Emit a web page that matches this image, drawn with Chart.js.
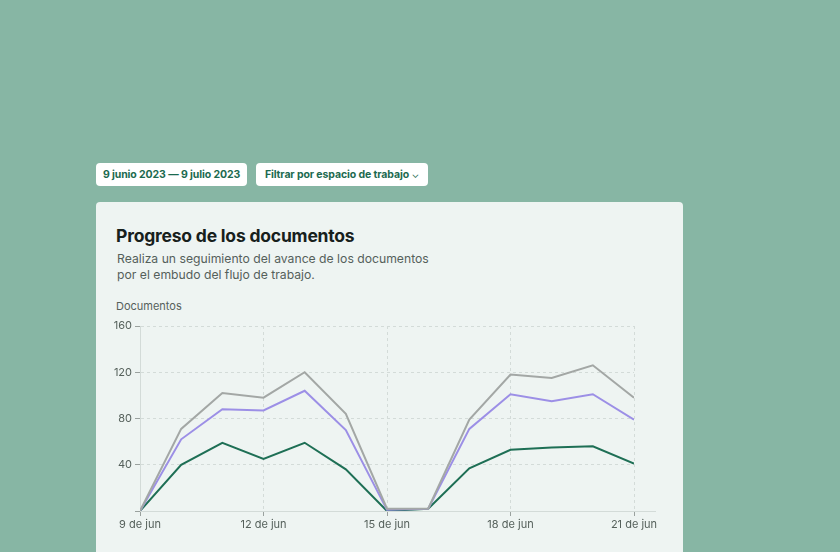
<!DOCTYPE html>
<html>
<head>
<meta charset="utf-8">
<script src="https://cdn.jsdelivr.net/npm/chart.js@4.4.0/dist/chart.umd.min.js"></script>
<style>
  html, body { margin:0; padding:0; }
  body { width:840px; height:552px; background:#87b6a4; position:relative; overflow:hidden; font-family:Inter, "Open Sans", sans-serif; }
  .btn { position:absolute; top:163px; height:23px; background:#fff; border-radius:4px; color:#1c6a4f; font-weight:700; font-size:10.5px; line-height:23px; text-align:center; letter-spacing:-0.1px; }
  .card { position:absolute; left:96px; top:202px; width:587px; height:380px; background:#eef4f2; border-radius:4px; }
  .title { position:absolute; left:116px; top:225px; font-size:17.5px; font-weight:700; color:#17201c; letter-spacing:-0.2px; }
  .sub { position:absolute; left:117px; top:251px; font-size:12.2px; line-height:16px; color:#55605b; }
  .ylab { position:absolute; left:116px; top:299px; font-size:11px; color:#55605b; }
  #wrap { position:absolute; left:100px; top:316px; width:580px; height:220px; }
</style>
</head>
<body>
<div class="btn" style="left:96px;width:151px;">9 junio 2023 — 9 julio 2023</div>
<div class="btn" style="left:256px;width:172px;">Filtrar por espacio de trabajo <span style="font-weight:400;font-size:10px;">&#8964;</span></div>
<div class="card"></div>
<div class="title">Progreso de los documentos</div>
<div class="sub">Realiza un seguimiento del avance de los documentos<br>por el embudo del flujo de trabajo.</div>
<div class="ylab">Documentos</div>
<div id="wrap"><canvas id="chart"></canvas></div>
<script>
// days of June
const days = [9, 10, 11, 12, 13, 14, 15, 16, 17, 18, 19, 20, 21];
const totalDocs = [0, 71, 102, 98, 120, 84, 2, 2, 79, 118, 115, 126, 98];
const inProgress = [0, 62, 88, 87, 104, 70, 1, 2, 71, 101, 95, 101, 79];
const completed = [0, 40, 59, 45, 59, 36, 0, 2, 37, 53, 55, 56, 41];
const yTicks = [0, 40, 80, 120, 160];

const gridColor = '#d3dbd8';

// extend the x axis line past the last tick, like the reference
const axisLine = {
  id: 'axisLine',
  afterDraw(chart) {
    const {ctx, chartArea} = chart;
    ctx.save();
    ctx.strokeStyle = gridColor;
    ctx.lineWidth = 1;
    ctx.beginPath();
    ctx.moveTo(chartArea.left, Math.round(chartArea.bottom) + 0.5);
    ctx.lineTo(chartArea.right + 22, Math.round(chartArea.bottom) + 0.5);
    ctx.stroke();
    ctx.restore();
  }
};

const toPoints = arr => arr.map((v, i) => ({x: days[i], y: v}));

new Chart(document.getElementById('chart'), {
  type: 'line',
  plugins: [axisLine],
  data: {
    datasets: [
      { label: 'Total', data: toPoints(totalDocs), borderColor: '#a3a7a5' },
      { label: 'En curso', data: toPoints(inProgress), borderColor: '#9c8fe6' },
      { label: 'Completados', data: toPoints(completed), borderColor: '#1e6f55' }
    ]
  },
  options: {
    responsive: true,
    maintainAspectRatio: false,
    animation: false,
    layout: { padding: { top: 10, right: 46, left: 0, bottom: 0 } },
    elements: {
      line: { borderWidth: 2, tension: 0, fill: false },
      point: { radius: 0 }
    },
    plugins: { legend: { display: false }, tooltip: { enabled: false } },
    scales: {
      x: {
        type: 'linear',
        min: days[0],
        max: days[days.length - 1],
        afterFit: s => { s.height = 25; },
        ticks: {
          stepSize: 3,
          color: '#55605b',
          font: { family: 'Inter', size: 11 },
          padding: 2,
          callback: v => v + ' de jun'
        },
        grid: { color: gridColor, tickColor: '#9aa19e', tickLength: 5, tickBorderDash: [] },
        border: { display: false, dash: [3, 3] }
      },
      y: {
        min: yTicks[0],
        max: yTicks[yTicks.length - 1],
        afterFit: s => { s.width = 40; },
        afterBuildTicks: s => { s.ticks = yTicks.map(v => ({value: v})); },
        ticks: {
          color: '#55605b',
          font: { family: 'Inter', size: 11 },
          padding: 3,
          callback: v => v === 0 ? '' : v
        },
        grid: { color: gridColor, tickColor: '#9aa19e', tickLength: 5, tickBorderDash: [] },
        border: { display: true, color: gridColor, dash: [3, 3] }
      }
    }
  }
});
</script>
</body>
</html>
